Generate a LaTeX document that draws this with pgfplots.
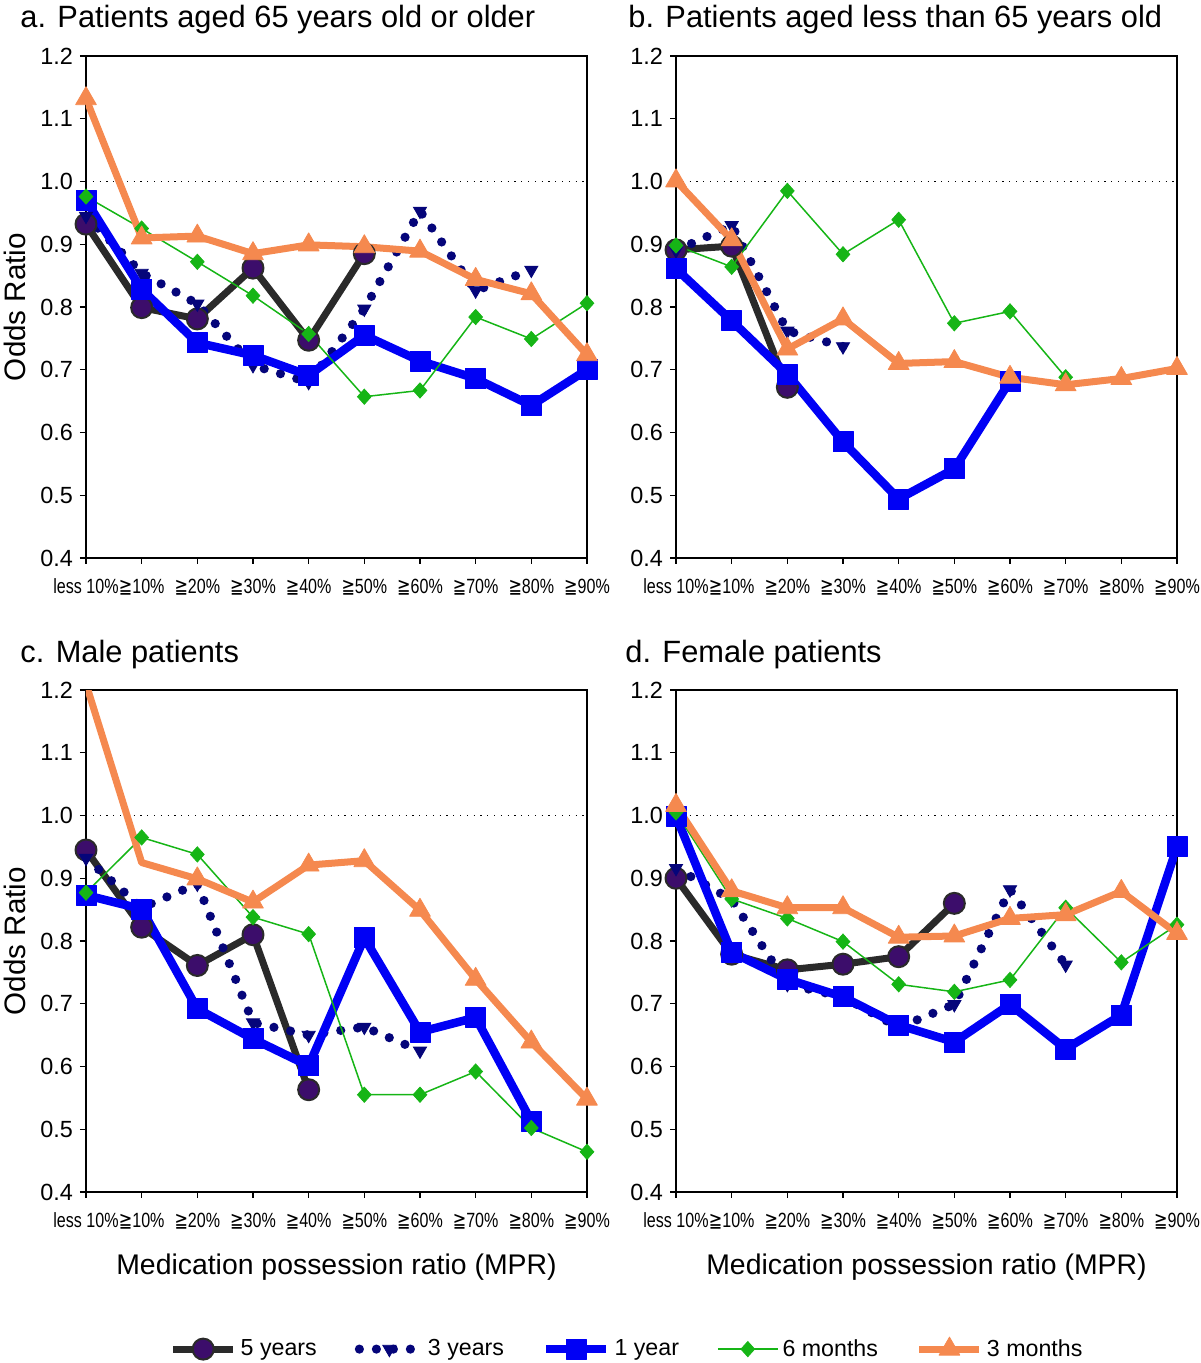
\documentclass[border=0pt]{standalone}
\usepackage{fontspec}
\setmainfont{Liberation Sans}
\newfontfamily\symfont{DejaVu Sans}
\usepackage{graphicx}
\usepackage{pgfplots}
\pgfplotsset{compat=1.18}

\definecolor{c5line}{HTML}{2A2A2A}
\definecolor{c5fill}{HTML}{3C0D6B}
\definecolor{c3}{HTML}{05057A}
\definecolor{c1}{HTML}{0000F5}
\definecolor{c6}{HTML}{16B516}
\definecolor{c3m}{HTML}{F5894F}

\newcommand{\gq}{{\symfont ≧}}
\newcommand{\tl}[1]{\scalebox{0.78}[1]{#1}}

\pgfplotsset{
 panel/.style={
  width=250.5pt, height=251pt, scale only axis,
  xmin=0, xmax=9, ymin=0.4, ymax=1.2,
  xtick={0,...,9},
  xticklabels={\tl{less 10\%},\tl{\gq10\%},\tl{\gq20\%},\tl{\gq30\%},\tl{\gq40\%},\tl{\gq50\%},\tl{\gq60\%},\tl{\gq70\%},\tl{\gq80\%},\tl{\gq90\%}},
  ytick={0.4,0.5,0.6,0.7,0.8,0.9,1.0,1.1,1.2},
  tick align=outside, major tick length=3pt,
  xtick pos=left, ytick pos=left,
  axis line style={line width=0.7pt},
  every tick/.style={black, line width=0.7pt},
  yticklabel style={font=\fontsize{11.7}{13}\selectfont, /pgf/number format/fixed, /pgf/number format/fixed zerofill, /pgf/number format/precision=1, /pgf/number format/assume math mode=true},
  xticklabel style={font=\fontsize{10.3}{12}\selectfont, yshift=-4pt},
  ylabel style={font=\fontsize{14.8}{17}\selectfont},
  xlabel style={font=\fontsize{14.2}{17}\selectfont},
  legend image code/.code={\draw[mark indices={2}] plot coordinates {(0pt,0pt) (15pt,0pt) (30pt,0pt)};},
 },
 five/.style={color=c5line, line width=3.5pt, line join=round, mark=*, mark size=5.25pt, mark options={fill=c5fill, draw=c5line, line width=1pt, solid}},
 three/.style={color=c3, line width=4.6pt, line cap=round, dash pattern=on 0pt off 8.5pt, mark=triangle*, mark size=3.8pt, mark options={rotate=180, solid, line width=0.4pt, fill=c3}},
 one/.style={color=c1, line width=4.25pt, line join=round, mark=square*, mark size=5pt, mark options={solid, line width=0.4pt}},
 six/.style={color=c6, line width=0.75pt, mark=diamond*, mark size=3.8pt, mark options={solid, line width=0.4pt, xscale=1.2}},
 threem/.style={color=c3m, line width=3.5pt, line join=round, mark=triangle*, mark size=6pt, mark options={solid, line width=0.4pt}},
 refline/.style={black, line width=0.5pt, dash pattern=on 0.6pt off 2.8pt, forget plot},
}

\begin{document}
\begin{tikzpicture}
% ---------- a ----------
\begin{axis}[panel, at={(43pt,-28pt)}, anchor=north west,
  ylabel={Odds Ratio}, ylabel style={at={(axis description cs:-0.1417,0.5)}, anchor=center}]
\addplot[refline] coordinates {(0,1) (9,1)};
\addplot[five] coordinates {(0,0.932) (1,0.799) (2,0.781) (3,0.862) (4,0.747) (5,0.885)};
\addplot[three] coordinates {(0,0.945) (1,0.854) (2,0.805) (3,0.707) (4,0.680) (5,0.797) (6,0.953) (7,0.826) (8,0.859)};
\addplot[one] coordinates {(0,0.970) (1,0.828) (2,0.743) (3,0.723) (4,0.691) (5,0.755) (6,0.714) (7,0.686) (8,0.643) (9,0.700)};
\addplot[six] coordinates {(0,0.976) (1,0.925) (2,0.872) (3,0.818) (4,0.757) (5,0.657) (6,0.667) (7,0.784) (8,0.749) (9,0.806)};
\addplot[threem] coordinates {(0,1.132) (1,0.910) (2,0.913) (3,0.885) (4,0.899) (5,0.896) (6,0.889) (7,0.844) (8,0.821) (9,0.724)};
\end{axis}
% ---------- b ----------
\begin{axis}[panel, at={(338pt,-28pt)}, anchor=north west]
\addplot[refline] coordinates {(0,1) (9,1)};
\addplot[five] coordinates {(0,0.891) (1,0.897) (2,0.672)};
\addplot[three] coordinates {(0,0.890) (1,0.930) (2,0.762) (3,0.737)};
\addplot[one] coordinates {(0,0.861) (1,0.778) (2,0.693) (3,0.585) (4,0.494) (5,0.542) (6,0.682)};
\addplot[six] coordinates {(0,0.898) (1,0.864) (2,0.985) (3,0.884) (4,0.939) (5,0.774) (6,0.793) (7,0.688)};
\addplot[threem] coordinates {(0,1.001) (1,0.907) (2,0.733) (3,0.781) (4,0.710) (5,0.713) (6,0.688) (7,0.676) (8,0.686) (9,0.702)};
\end{axis}
% ---------- c ----------
\begin{axis}[panel, at={(43pt,-345pt)}, anchor=north west,
  ylabel={Odds Ratio}, ylabel style={at={(axis description cs:-0.1417,0.5)}, anchor=center},
  xlabel={Medication possession ratio (MPR)}, xlabel style={at={(axis description cs:0.5,-0.149)}, anchor=center},
  legend style={at={(axis description cs:1.082,-0.313)}, anchor=center, draw=none, fill=none, legend columns=5,
    font=\fontsize{11.6}{13}\selectfont, /tikz/every even column/.append style={column sep=17pt}},
  legend cell align=left]
\addplot[refline] coordinates {(0,1) (9,1)};
\addplot[five] coordinates {(0,0.945) (1,0.822) (2,0.761) (3,0.810) (4,0.563)};
\addlegendentry{5 years}
\addplot[three] coordinates {(0,0.932) (1,0.853) (2,0.891) (3,0.670) (4,0.650) (5,0.663) (6,0.625)};
\addlegendentry{3 years}
\addplot[one] coordinates {(0,0.873) (1,0.851) (2,0.692) (3,0.644) (4,0.601) (5,0.805) (6,0.655) (7,0.678) (8,0.513)};
\addlegendentry{1 year}
\addplot[six] coordinates {(0,0.877) (1,0.965) (2,0.938) (3,0.838) (4,0.811) (5,0.555) (6,0.555) (7,0.592) (8,0.502) (9,0.464)};
\addlegendentry{6 months}
\addplot[threem, mark indices={2,3,4,5,6,7,8,9,10}] coordinates {(0,1.21) (1,0.925) (2,0.899) (3,0.862) (4,0.921) (5,0.928) (6,0.849) (7,0.739) (8,0.639) (9,0.548)};
\addlegendentry{3 months}
\end{axis}
% ---------- d ----------
\begin{axis}[panel, at={(338pt,-345pt)}, anchor=north west,
  xlabel={Medication possession ratio (MPR)}, xlabel style={at={(axis description cs:0.5,-0.149)}, anchor=center}]
\addplot[refline] coordinates {(0,1) (9,1)};
\addplot[five] coordinates {(0,0.900) (1,0.779) (2,0.754) (3,0.763) (4,0.775) (5,0.860)};
\addplot[three] coordinates {(0,0.916) (1,0.866) (2,0.731) (3,0.711) (4,0.662) (5,0.699) (6,0.882) (7,0.762)};
\addplot[one] coordinates {(0,0.999) (1,0.782) (2,0.739) (3,0.711) (4,0.666) (5,0.639) (6,0.699) (7,0.628) (8,0.682) (9,0.950)};
\addplot[six] coordinates {(0,1.005) (1,0.867) (2,0.836) (3,0.799) (4,0.731) (5,0.719) (6,0.738) (7,0.853) (8,0.766) (9,0.826)};
\addplot[threem] coordinates {(0,1.016) (1,0.880) (2,0.853) (3,0.853) (4,0.806) (5,0.808) (6,0.836) (7,0.842) (8,0.879) (9,0.812)};
\end{axis}
% ---------- titles ----------
\node[anchor=base west, font=\fontsize{15.4}{18}\selectfont, inner sep=0] at (10pt,-14pt) {a. Patients aged 65 years old or older};
\node[anchor=base west, font=\fontsize{15.4}{18}\selectfont, inner sep=0] at (314pt,-14pt) {b. Patients aged less than 65 years old};
\node[anchor=base west, font=\fontsize{15.4}{18}\selectfont, inner sep=0] at (10pt,-331pt) {c. Male patients};
\node[anchor=base west, font=\fontsize{15.4}{18}\selectfont, inner sep=0] at (312.5pt,-331pt) {d. Female patients};
\pgfresetboundingbox
\path (0pt,0pt) rectangle (600pt,-681.5pt);
\end{tikzpicture}
\end{document}
